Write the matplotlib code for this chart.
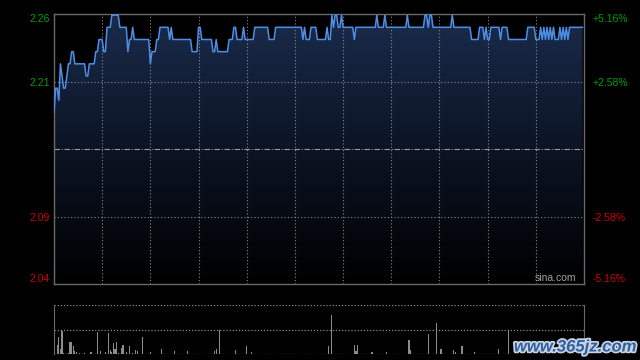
import numpy as np
import matplotlib
matplotlib.use("Agg")
import matplotlib.pyplot as plt
import matplotlib.patheffects as pe
from matplotlib.colors import LinearSegmentedColormap

plt.rcParams['font.family'] = ['Liberation Sans', 'DejaVu Sans']

# intraday price as (price, minutes held) runs
price_runs = [
    (2.18, 1), (2.20, 2), (2.19, 1), (2.22, 1), (2.21, 1), (2.20, 2), (2.21, 1),
    (2.22, 2), (2.23, 2), (2.22, 7), (2.21, 2), (2.22, 4), (2.23, 2), (2.24, 3),
    (2.23, 2), (2.25, 3), (2.26, 5), (2.25, 5), (2.23, 1), (2.24, 2), (2.25, 1),
    (2.24, 10), (2.22, 1), (2.23, 3), (2.24, 2), (2.25, 6), (2.24, 1), (2.25, 1),
    (2.24, 12), (2.23, 4), (2.25, 2), (2.24, 7), (2.23, 2), (2.24, 1), (2.23, 7),
    (2.24, 3), (2.25, 2), (2.24, 4), (2.25, 1), (2.24, 6), (2.25, 9), (2.24, 4),
    (2.25, 17), (2.24, 1), (2.25, 1), (2.24, 3), (2.25, 4), (2.24, 6), (2.25, 1),
    (2.24, 2), (2.26, 1), (2.25, 1), (2.26, 2), (2.25, 2), (2.26, 1), (2.25, 7),
    (2.24, 1), (2.25, 13), (2.26, 1), (2.25, 4), (2.26, 1), (2.25, 13), (2.26, 1),
    (2.25, 10), (2.26, 2), (2.25, 1), (2.26, 2), (2.25, 12), (2.26, 1), (2.25, 11),
    (2.24, 5), (2.25, 3), (2.24, 1), (2.25, 1), (2.24, 2), (2.25, 6), (2.24, 1),
    (2.25, 4), (2.24, 12), (2.25, 5), (2.24, 3),
    (2.25, 1), (2.24, 1), (2.25, 1), (2.24, 1), (2.25, 1), (2.24, 1), (2.25, 1),
    (2.24, 1), (2.25, 1), (2.24, 3), (2.25, 1), (2.24, 1), (2.25, 1), (2.24, 1),
    (2.25, 1), (2.24, 1), (2.25, 9),
]
prev_close = 2.15

# volume (relative units, 100 = panel top), minute -> volume
vol_minutes = [0, 2, 3, 4, 5, 6, 9, 10, 11, 12, 13, 14, 16, 19, 23, 27, 29, 32, 34,
               35, 36, 37, 38, 39, 40, 42, 43, 45, 47, 49, 51, 52, 55, 60, 67, 75,
               83, 100, 101, 103, 113, 120, 123, 171, 173, 187, 188, 189, 198, 207,
               221, 222, 233, 238, 241, 249, 250, 254, 262, 277, 283]
vol_values = [100, 18, 35, 10, 47, 3, 2, 24, 24, 16, 7, 5, 2, 2, 4, 45, 7, 4, 43,
              8, 4, 22, 11, 24, 3, 13, 18, 4, 16, 2, 8, 6, 35, 4, 10, 6,
              6, 6, 10, 49, 8, 16, 4, 16, 80, 18, 7, 18, 4, 4,
              29, 8, 41, 63, 10, 8, 4, 16, 4, 10, 49]

left_labels = ["2.26", "2.21", "2.09", "2.04"]
right_labels = ["+5.16%", "+2.58%", "-2.58%", "-5.16%"]
label_colors = ["#00a000", "#00a000", "#d00000", "#d00000"]

prices = np.repeat([p for p, n in price_runs], [n for p, n in price_runs])
minutes = np.arange(len(prices))
n_total = 330

W, H = 640, 360
fig = plt.figure(figsize=(6.4, 3.6), dpi=100, facecolor="black")

def px_axes(l, t, r, b):
    return fig.add_axes([l / W, 1 - b / H, (r - l) / W, (b - t) / H])

spine_c = "#6a6a6a"
grid_c = "#8a8a8a"

# ---- price panel ----
ax = px_axes(54, 14, 584, 284)
ax.set_facecolor("black")
ymax = prev_close * 1.0516
ymin = prev_close * (1 - 0.0516)
ax.set_xlim(0, n_total)
ax.set_ylim(ymin, ymax)

cmap = LinearSegmentedColormap.from_list("fill", ["#000000", "#0c1424", "#1a2b4c"])
grad = np.linspace(0, 1, 256).reshape(-1, 1)
im = ax.imshow(grad, cmap=cmap, origin="lower", aspect="auto",
               extent=[0, n_total, ymin, ymax], zorder=1)
poly = ax.fill_between(minutes, prices, ymin, color="none", lw=0)
im.set_clip_path(poly.get_paths()[0], transform=ax.transData)

q = prev_close * 0.0258
for y in [prev_close + q, prev_close - q]:
    ax.axhline(y, color=grid_c, lw=0.8, ls=(0, (1, 2)), zorder=2)
ax.axhline(prev_close, color="#9a9a9a", lw=0.8, ls=(0, (5, 1.5, 1, 1.5)), zorder=2)
for x in range(30, n_total, 30):
    ax.axvline(x, color=grid_c, lw=0.8, ls=(0, (1, 2)), zorder=2)

ax.plot(minutes, prices, color="#4d8fe6", lw=1.1, zorder=3)

for s in ax.spines.values():
    s.set_color(spine_c)
    s.set_linewidth(1.0)
ax.set_xticks([])
ticks = [ymax, prev_close + q, prev_close - q, ymin]
ax.set_yticks(ticks)
ax.set_yticklabels(left_labels, fontsize=7.5)
ax.tick_params(axis="y", length=0, pad=3)
for lab, c in zip(ax.get_yticklabels(), label_colors):
    lab.set_color(c)
ax.get_yticklabels()[0].set_va("top")
ax.get_yticklabels()[-1].set_va("bottom")

ax2 = ax.twinx()
ax2.set_ylim(ymin, ymax)
ax2.set_yticks(ticks)
ax2.set_yticklabels(right_labels, fontsize=7.5)
ax2.tick_params(axis="y", length=0, pad=6)
for lab, c in zip(ax2.get_yticklabels(), label_colors):
    lab.set_color(c)
ax2.get_yticklabels()[0].set_va("top")
ax2.get_yticklabels()[-1].set_va("bottom")
for s in ax2.spines.values():
    s.set_visible(False)

ax.text(0.985, 0.005, "sina.com", transform=ax.transAxes, ha="right", va="bottom",
        fontsize=7.5, color="#a0a0a0", zorder=4)

# ---- volume panel ----
axv = px_axes(54, 305, 584, 354)
axv.set_facecolor("black")
axv.set_xlim(0, n_total)
axv.set_ylim(0, 100)
for y in [100, 50, 0]:
    axv.axhline(y, color=grid_c, lw=0.9, ls=(0, (1, 1.5)), zorder=1)
axv.bar(vol_minutes, vol_values, width=0.7, color="#8c8c8c", lw=0, zorder=2)
for k, s in axv.spines.items():
    s.set_visible(k in ("left", "right"))
    s.set_color(spine_c)
axv.set_xticks([])
axv.set_yticks([])

fig.text(575 / W, 1 - 347 / H, "www.365jz.com", ha="center", va="center",
         fontsize=12, fontweight="bold", style="italic", color="#2f5f9f",
         path_effects=[pe.withStroke(linewidth=2.5, foreground="#c8d4e4")])

fig.savefig("out.png", dpi=100, facecolor="black")
